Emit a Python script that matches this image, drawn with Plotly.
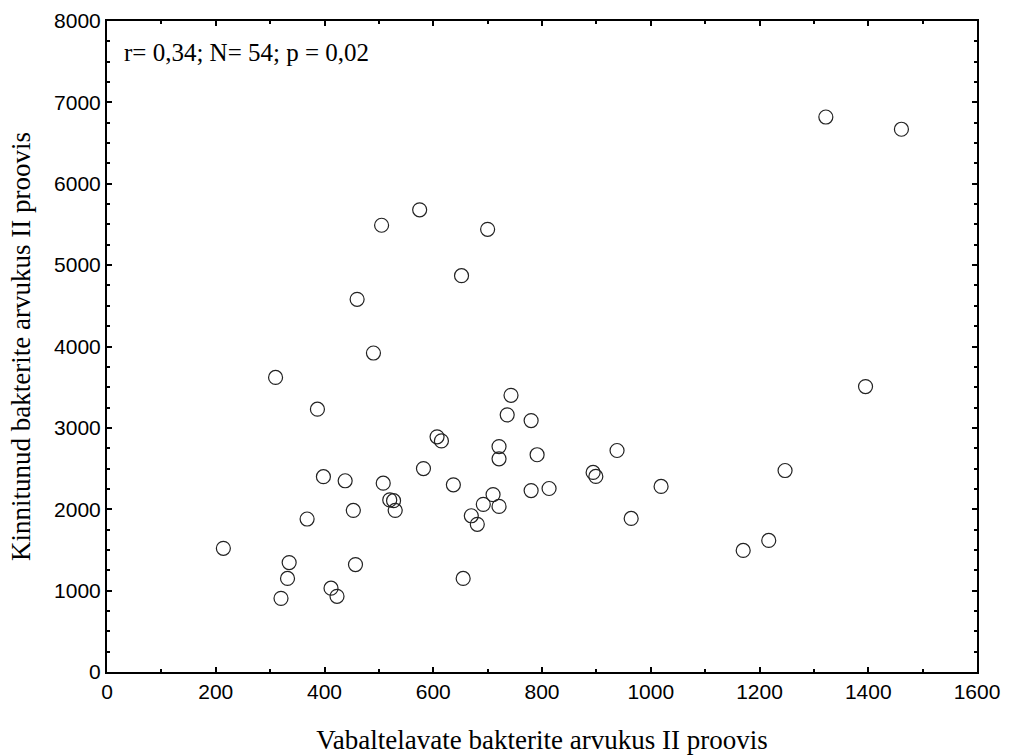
import plotly.graph_objects as go

x_vals = [575, 505, 700, 652, 460, 490, 310, 387, 743, 736, 780, 607, 615,
          721, 721, 791, 894, 899, 938, 1019, 964, 1247, 1170, 1217, 1395,
          582, 637, 508, 438, 398, 368, 453, 520, 527, 530, 214, 335, 332,
          320, 457, 412, 423, 655, 670, 681, 692, 710, 721, 780, 813, 1322, 1461]
y_vals = [5680, 5490, 5440, 4870, 4580, 3920, 3620, 3230, 3400, 3160, 3090, 2890, 2840,
          2770, 2620, 2670, 2452, 2403, 2722, 2280, 1887, 2476, 1494, 1617, 3508,
          2500, 2300, 2320, 2350, 2400, 1880, 1985, 2115, 2105, 1985, 1520, 1345, 1150,
          905, 1320, 1030, 930, 1150, 1920, 1815, 2060, 2180, 2035, 2230, 2255, 6820, 6670]

x_title = "Vabaltelavate bakterite arvukus II proovis"
y_title = "Kinnitunud bakterite arvukus II proovis"
stats_text = "r= 0,34; N= 54; p = 0,02"

fig = go.Figure()
fig.add_trace(go.Scatter(
    x=x_vals, y=y_vals, mode="markers",
    marker=dict(symbol="circle-open", size=14, color="#222222", line=dict(width=1.2)),
    showlegend=False,
))

axis_common = dict(
    showgrid=False, zeroline=False, showline=True, linecolor="black", linewidth=2,
    mirror="allticks", ticks="inside", ticklen=5, tickwidth=2, tickcolor="black",
    tickfont=dict(family="Liberation Sans, Arial", size=21, color="black"),
    automargin=False,
)

fig.update_xaxes(
    range=[0, 1600], tick0=0, dtick=200,
    minor=dict(ticks="inside", dtick=100, ticklen=3, tickwidth=2, tickcolor="black", showgrid=False),
    title=dict(text=x_title, font=dict(family="Liberation Serif, Times New Roman", size=27, color="black"), standoff=30),
    **axis_common,
)
fig.update_yaxes(
    range=[0, 8000], tick0=0, dtick=1000,
    minor=dict(ticks="inside", dtick=250, ticklen=3, tickwidth=2, tickcolor="black", showgrid=False),
    title=dict(text=y_title, font=dict(family="Liberation Serif, Times New Roman", size=27, color="black"), standoff=16),
    **axis_common,
)

fig.add_annotation(
    x=0.017, y=0.952, xref="paper", yref="paper", xanchor="left", yanchor="middle",
    text=stats_text, showarrow=False,
    font=dict(family="Liberation Serif, Times New Roman", size=25, color="black"),
)

fig.update_layout(
    width=1009, height=755,
    margin=dict(l=107, r=32, t=21, b=83),
    plot_bgcolor="white", paper_bgcolor="white",
)

fig.write_html("out.html")
